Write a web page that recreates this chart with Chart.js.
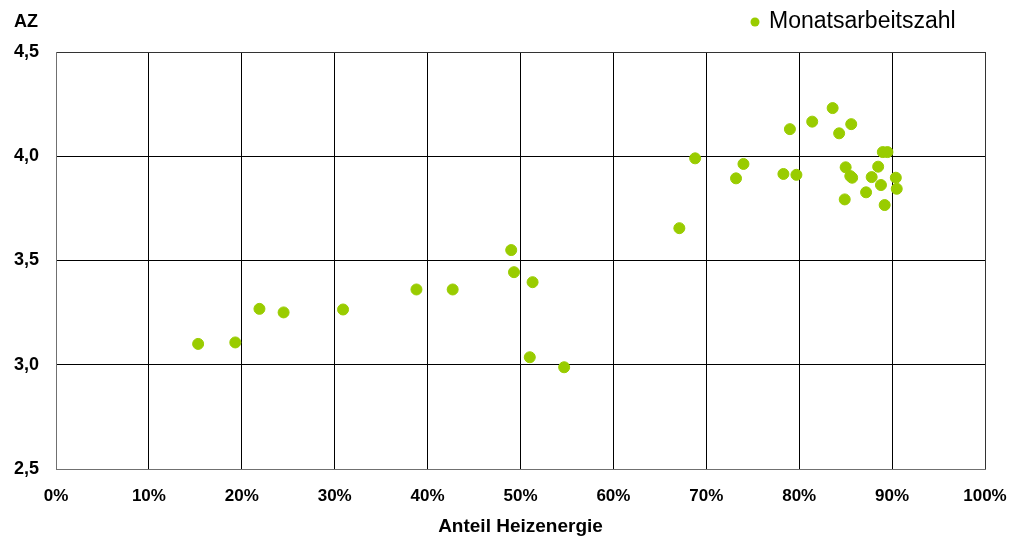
<!DOCTYPE html>
<html>
<head>
<meta charset="utf-8">
<script src="https://cdn.jsdelivr.net/npm/chart.js@4"></script>
<style>
  body { margin: 0; background: #fff; }
  #wrap { width: 1016px; height: 538px; }
</style>
</head>
<body>
<div id="wrap"><canvas id="chart" width="1016" height="538"></canvas></div>
<script>
// share of heating energy (0..1) and monthly performance factor
const heatShare = [
    0.153, 0.193, 0.219, 0.245, 0.309, 0.388, 0.427, 0.490, 0.493, 0.513,
    0.510, 0.547, 0.671, 0.688, 0.740, 0.732, 0.790, 0.814, 0.836, 0.856,
    0.843, 0.890, 0.895, 0.783, 0.797, 0.850, 0.855, 0.857, 0.885, 0.878,
    0.904, 0.905, 0.888, 0.872, 0.849, 0.892
];
const workNumber = [
    3.100, 3.107, 3.268, 3.251, 3.265, 3.361, 3.361, 3.550, 3.444, 3.396,
    3.036, 2.988, 3.655, 3.990, 3.963, 3.894, 4.130, 4.166, 4.231, 4.154,
    4.110, 4.020, 4.020, 3.915, 3.911, 3.947, 3.905, 3.897, 3.950, 3.900,
    3.897, 3.844, 3.862, 3.827, 3.793, 3.766
];
const seriesName = "Monatsarbeitszahl";
const yAxisLabel = "AZ";
const xAxisLabel = "Anteil Heizenergie";

const green = "#99CC00";
Chart.defaults.font.family = "'Liberation Sans', Arial, sans-serif";
Chart.defaults.color = "#000";

// axis caption "AZ" and the legend entry in the top row
const topLabels = {
    id: "topLabels",
    afterDraw(chart) {
        const ctx = chart.ctx;
        ctx.save();
        ctx.fillStyle = "#000";
        ctx.textBaseline = "middle";
        ctx.font = "bold 18px 'Liberation Sans', Arial, sans-serif";
        ctx.fillText(yAxisLabel, 14, 22);

        ctx.fillStyle = green;
        ctx.beginPath();
        ctx.arc(755, 22, 4.5, 0, Math.PI * 2);
        ctx.fill();
        ctx.fillStyle = "#000";
        ctx.font = "23px 'Liberation Sans', Arial, sans-serif";
        ctx.fillText(chart.data.datasets[0].label, 769, 22);
        ctx.restore();
    }
};

const ctx = document.getElementById("chart").getContext("2d");
new Chart(ctx, {
    type: "scatter",
    data: {
        datasets: [{
            label: seriesName,
            data: heatShare.map((x, i) => ({ x: x, y: workNumber[i] })),
            backgroundColor: green,
            borderColor: green,
            pointRadius: 5.5,
            pointHoverRadius: 5.5
        }]
    },
    options: {
        responsive: false,
        animation: false,
        layout: {
            padding: { top: 52, right: 31, bottom: 0, left: 0 }
        },
        plugins: {
            legend: { display: false },
            tooltip: { enabled: false }
        },
        scales: {
            x: {
                type: "linear",
                min: 0,
                max: 1,
                ticks: {
                    stepSize: 0.1,
                    padding: 17,
                    font: { size: 17, weight: "bold" },
                    callback: v => Math.round(v * 100) + "%"
                },
                grid: {
                    drawTicks: false,
                    color: c => (c.tick && c.tick.value === 0) ? "#707070" :
                                (c.tick && c.tick.value === 1) ? "#333" : "#000",
                    lineWidth: 1
                },
                border: { color: "#707070" },
                title: {
                    display: true,
                    text: xAxisLabel,
                    font: { size: 19, weight: "bold" },
                    padding: { top: 0, bottom: 0 }
                },
                afterFit: scale => {
                    scale.height = 69;
                    scale.paddingLeft = 0;
                    scale.paddingRight = 0;
                }
            },
            y: {
                min: 2.5,
                max: 4.5,
                ticks: {
                    stepSize: 0.5,
                    padding: 17,
                    font: { size: 18, weight: "bold" },
                    callback: v => v.toFixed(1).replace(".", ",")
                },
                grid: {
                    drawTicks: false,
                    color: c => (c.tick && c.tick.value === 2.5) ? "#707070" :
                                (c.tick && c.tick.value === 4.5) ? "#333" : "#000",
                    lineWidth: 1
                },
                border: { color: "#707070" },
                afterFit: scale => { scale.width = 56; }
            }
        }
    },
    plugins: [topLabels]
});
</script>
</body>
</html>
